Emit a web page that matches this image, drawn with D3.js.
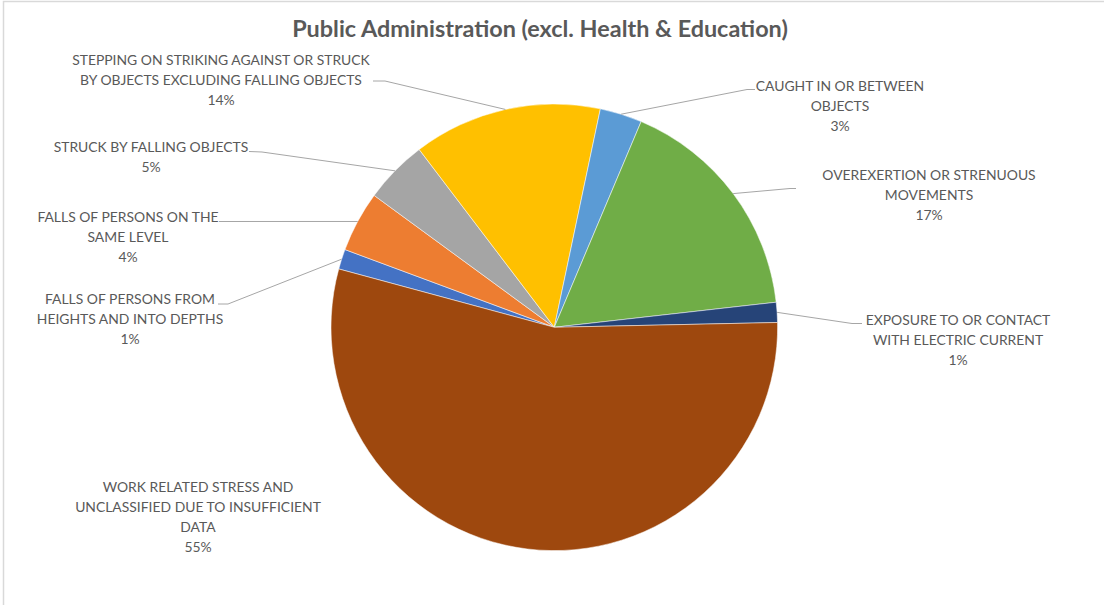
<!DOCTYPE html>
<html>
<head>
<meta charset="utf-8">
<script src="https://cdn.jsdelivr.net/npm/d3@7"></script>
<style>
  html, body { margin: 0; padding: 0; background: #fff; }
  svg { display: block; }
</style>
</head>
<body>
<svg id="chart" width="1104" height="605"></svg>
<script>
// Accident categories, in series order (clockwise from the first slice)
const categories = [
  "FALLS OF PERSONS FROM HEIGHTS AND INTO DEPTHS",
  "FALLS OF PERSONS ON THE SAME LEVEL",
  "STRUCK BY FALLING OBJECTS",
  "STEPPING ON STRIKING AGAINST OR STRUCK BY OBJECTS EXCLUDING FALLING OBJECTS",
  "CAUGHT IN OR BETWEEN OBJECTS",
  "OVEREXERTION OR STRENUOUS MOVEMENTS",
  "EXPOSURE TO OR CONTACT WITH ELECTRIC CURRENT",
  "WORK RELATED STRESS AND UNCLASSIFIED DUE TO INSUFFICIENT DATA"
];

// Share of cases per category (%)
const values = [1.45, 4.4, 4.6, 13.65, 3.05, 16.85, 1.45, 54.55];

// Category names as wrapped in the data labels
const labelLines = [
  ["FALLS OF PERSONS FROM", "HEIGHTS AND INTO DEPTHS"],
  ["FALLS OF PERSONS ON THE", "SAME LEVEL"],
  ["STRUCK BY FALLING OBJECTS"],
  ["STEPPING ON STRIKING AGAINST OR STRUCK", "BY OBJECTS EXCLUDING FALLING OBJECTS"],
  ["CAUGHT IN OR BETWEEN", "OBJECTS"],
  ["OVEREXERTION OR STRENUOUS", "MOVEMENTS"],
  ["EXPOSURE TO OR CONTACT", "WITH ELECTRIC CURRENT"],
  ["WORK RELATED STRESS AND", "UNCLASSIFIED DUE TO INSUFFICIENT", "DATA"]
];

const title = "Public Administration (excl. Health & Education)";

const colors = ["#4472C4", "#ED7D31", "#A5A5A5", "#FFC000", "#5B9BD5", "#70AD47", "#264478", "#9E480E"];

// Label placement: text centre x, first baseline y, and leader elbow points (from label toward slice)
const labelLayout = [
  { x: 130, y: 303.5, lead: [[218, 304], [228, 304]] },
  { x: 128, y: 221.5, lead: [[219, 221.5]] },
  { x: 151, y: 151.5, lead: [[249, 151.5], [262, 152]] },
  { x: 221, y: 65,    lead: [[373, 81], [385, 81]] },
  { x: 840, y: 91,    lead: [[755, 89.5], [747, 89.5]] },
  { x: 929, y: 180,   lead: [[796, 188.5], [790, 188.5]] },
  { x: 958, y: 325,   lead: [[862, 323.5], [852, 323.5]] },
  { x: 198, y: 491.5, lead: null }
];

const W = 1104, H = 605;
const cx = 554.3, cy = 327.3, R = 223.3;
const firstSliceDeg = 285.15;
const rad = d => d * Math.PI / 180;

const svg = d3.select("#chart");

// Chart area border (partly cropped on the right and bottom)
svg.append("rect")
  .attr("x", 3.5).attr("y", 1.5)
  .attr("width", W + 20).attr("height", H + 20)
  .attr("fill", "#fff")
  .attr("stroke", "#d9d9d9")
  .attr("stroke-width", 1.5);

// Title
const titleText = svg.append("text")
  .attr("x", 540).attr("y", 36.5)
  .attr("text-anchor", "middle")
  .attr("font-family", "Lato, 'Open Sans', sans-serif")
  .attr("font-weight", "bold")
  .attr("font-size", 21)
  .attr("fill", "#595959")
  .text(title);
{
  const w = titleText.node().getComputedTextLength();
  titleText.attr("font-size", 21 * 496 / w);
}

const total = d3.sum(values);
const pie = d3.pie().sort(null).value(d => d)
  .startAngle(rad(firstSliceDeg))
  .endAngle(rad(firstSliceDeg + 360));
const arcs = pie(values);
const arc = d3.arc().innerRadius(0).outerRadius(R);

const g = svg.append("g").attr("transform", `translate(${cx},${cy})`);
g.selectAll("path.slice")
  .data(arcs)
  .join("path")
  .attr("class", "slice")
  .attr("d", arc)
  .attr("fill", (d, i) => colors[i])
  .attr("stroke", "#fff")
  .attr("stroke-width", 0.5)
  .attr("stroke-linejoin", "round");

// Point on the rim at the middle of each slice
const rimPoint = d => {
  const a = (d.startAngle + d.endAngle) / 2;
  return [cx + R * Math.sin(a), cy - R * Math.cos(a)];
};

// Leader lines
const line = d3.line();
arcs.forEach((d, i) => {
  const L = labelLayout[i];
  if (!L.lead) return;
  const pts = L.lead.concat([rimPoint(d)]);
  svg.append("path")
    .attr("d", line(pts))
    .attr("fill", "none")
    .attr("stroke", "#A6A6A6")
    .attr("stroke-width", 1);
});

// Data labels: category name + percentage
const labelFont = "Lato, 'Open Sans', sans-serif";
let labelSize = 13;
{
  const probe = svg.append("text")
    .attr("font-family", labelFont).attr("font-size", 13)
    .text(labelLines[3][0]);
  const w = probe.node().getComputedTextLength();
  probe.remove();
  labelSize = 13 * 298 / w;
}

arcs.forEach((d, i) => {
  const L = labelLayout[i];
  const lines = labelLines[i].concat([Math.round(d.data / total * 100) + "%"]);
  const t = svg.append("text")
    .attr("text-anchor", "middle")
    .attr("font-family", labelFont)
    .attr("font-size", labelSize)
    .attr("fill", "#595959");
  lines.forEach((s, k) => {
    t.append("tspan")
      .attr("x", L.x)
      .attr("y", L.y + k * 20)
      .text(s);
  });
});
</script>
</body>
</html>
